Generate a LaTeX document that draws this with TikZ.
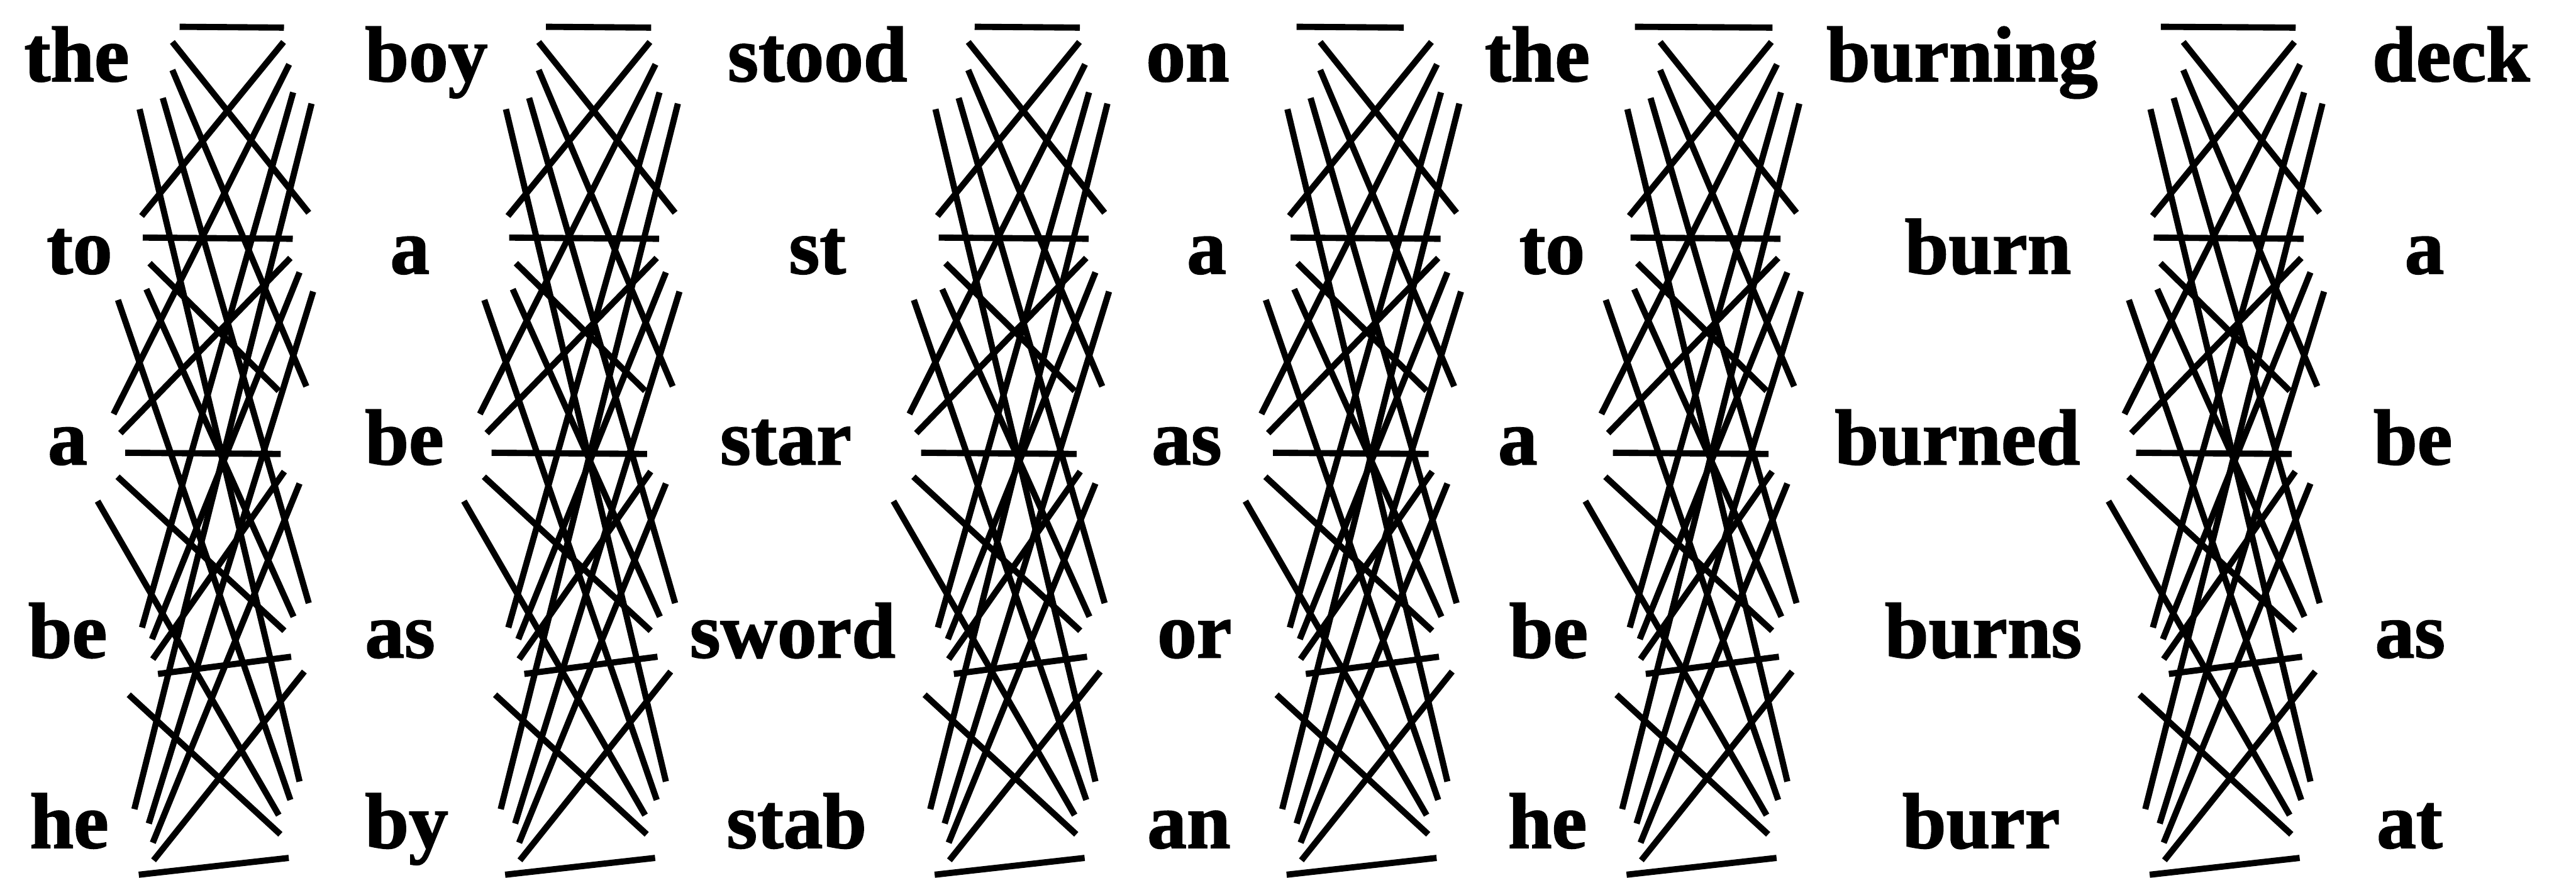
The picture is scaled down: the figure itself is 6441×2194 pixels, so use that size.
\documentclass[tikz,border=0pt]{standalone}
\usepackage{fontspec}
\setmainfont{Liberation Serif}[BoldFeatures={FakeBold=1.5}]

% one gap of the lattice: left row / right row / left end x,y / right end x,y
% (the top bar 1/1 is drawn per gap, it differs a little)
\newcommand\gapsegs{%
  1/2/431/105/772/532, 1/3/431/175/766/966, 1/4/407/245/772/1508, 1/5/349/273/749/1954,
  2/1/354/540/709/105, 2/2/357/594/732/597, 2/3/374/658/697/977, 2/4/366/723/734/1542, 2/5/295/750/726/2000,
  3/1/284/1035/723/161, 3/2/301/1083/726/645, 3/3/313/1132/702/1135, 3/4/294/1192/711/1577, 3/5/244/1253/697/2038,
  4/1/355/1569/733/231, 4/2/380/1598/749/681, 4/3/382/1648/711/1179, 4/4/395/1685/728/1642, 4/5/322/1737/701/2086,
  5/1/336/2023/779/259, 5/2/372/2059/783/729, 5/3/382/2107/749/1209, 5/4/384/2151/761/1679, 5/5/347/2187/722/2145}

\begin{document}
\begin{tikzpicture}[
  x=0.01cm, y=-0.01cm,
  word/.style={anchor=base west, inner sep=0pt, font=\fontsize{56}{60}\selectfont\bfseries},
  link/.style={line width=0.155cm},
]
\useasboundingbox (0,0) rectangle (6441,2194);

% Words, column by column
\foreach \w/\x/\y [count=\r] in {the/60/203, to/116/684, a/119/1161, be/70/1644, he/74/2120}
  \node[word] (c1-\r) at (\x,\y) {\w};
\foreach \w/\x/\y [count=\r] in {boy/912/203, a/975/684, be/912/1161, as/912/1644, by/912/2120}
  \node[word] (c2-\r) at (\x,\y) {\w};
\foreach \w/\x/\y [count=\r] in {stood/1819/203, st/1972/684, star/1800/1161, sword/1724/1644, stab/1816/2120}
  \node[word] (c3-\r) at (\x,\y) {\w};
\foreach \w/\x/\y [count=\r] in {on/2865/203, a/2967/684, as/2879/1161, or/2893/1644, an/2868/2120}
  \node[word] (c4-\r) at (\x,\y) {\w};
\foreach \w/\x/\y [count=\r] in {the/3712/203, to/3798/684, a/3745/1161, be/3773/1644, he/3770/2120}
  \node[word] (c5-\r) at (\x,\y) {\w};
\foreach \w/\x/\y [count=\r] in {burning/4566/203, burn/4762/684, burned/4587/1161, burns/4712/1644, burr/4756/2120}
  \node[word] (c6-\r) at (\x,\y) {\w};
\foreach \w/\x/\y [count=\r] in {deck/5931/203, a/6012/684, be/5934/1161, as/5938/1644, at/5942/2120}
  \node[word] (c7-\r) at (\x,\y) {\w};

% Links between neighbouring columns
\foreach \off/\tl/\tr [count=\g] in {0/449/710, 916/449/712, 1990/447/710, 2870/372/640, 3720/368/712, 5028/375/712} {
  \coordinate (g\g-11-l) at ({\off+\tl},67);
  \coordinate (g\g-11-r) at ({\off+\tr},69);
  \draw[link] (g\g-11-l) -- (g\g-11-r);
  \foreach \i/\j/\xa/\ya/\xb/\yb in \gapsegs {
    \coordinate (g\g-\i\j-l) at ({\off+\xa},\ya);
    \coordinate (g\g-\i\j-r) at ({\off+\xb},\yb);
    \draw[link] (g\g-\i\j-l) -- (g\g-\i\j-r);
  }
}

\end{tikzpicture}
\end{document}
